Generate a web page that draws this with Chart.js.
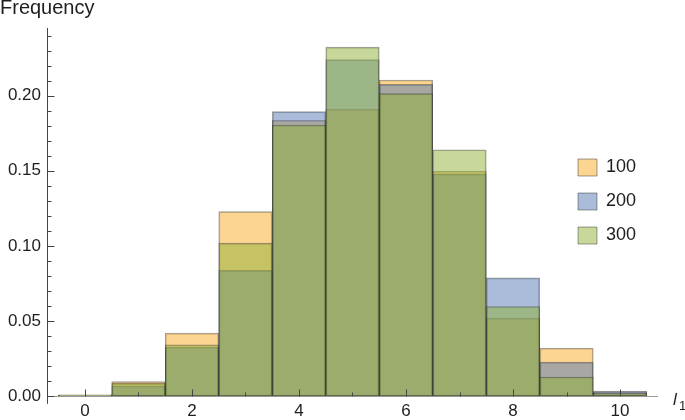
<!DOCTYPE html>
<html>
<head>
<meta charset="utf-8">
<script src="https://cdn.jsdelivr.net/npm/chart.js@4.4.0/dist/chart.umd.min.js"></script>
<style>
  html, body { margin: 0; padding: 0; background: #fff; }
  #wrap { width: 685px; height: 420px; }
</style>
</head>
<body>
<div id="wrap"><canvas id="hist" width="685" height="420"></canvas></div>
<script>
// bin centres for l1 (each bin is 1 wide) and the frequency in each bin
const bins = [0, 1, 2, 3, 4, 5, 6, 7, 8, 9, 10];
const freq100 = [0.001, 0.0097, 0.042, 0.1228, 0.1835, 0.191, 0.2104, 0.1497, 0.052, 0.032, 0.003];
const freq200 = [0.0005, 0.0069, 0.0328, 0.0838, 0.1894, 0.224, 0.2075, 0.148, 0.0788, 0.0227, 0.0035];
const freq300 = [0.0008, 0.0086, 0.0343, 0.1019, 0.1805, 0.2323, 0.2013, 0.164, 0.0597, 0.0128, 0.002];
const seriesNames = ['100', '200', '300'];
const xTicks = [0, 2, 4, 6, 8, 10];
const yTicks = [0, 0.05, 0.10, 0.15, 0.20];

const fills = ['rgba(249,172,40,0.5)', 'rgba(85,121,180,0.5)', 'rgba(145,177,55,0.5)'];
const edge = 'rgba(40,40,40,0.45)';
const textColor = '#1e1e1e';

Chart.defaults.font.family = '"Liberation Sans", Arial, Helvetica, sans-serif';

const toPoints = vals => bins.map((b, i) => ({x: b, y: vals[i]}));

// mathematica style axes: ticks point inwards, drawn over the bars
const mmaAxes = {
  id: 'mmaAxes',
  afterDatasetsDraw(chart) {
    const {ctx, chartArea: a, scales: {x, y}} = chart;
    const y0 = Math.round(y.getPixelForValue(0)) + 0.5;
    const x0 = Math.round(a.left) + 0.5;
    ctx.save();
    ctx.lineWidth = 1;
    ctx.strokeStyle = '#9a9a9a';
    ctx.beginPath();
    ctx.moveTo(a.left, y0);
    ctx.lineTo(a.right, y0);
    ctx.stroke();
    ctx.strokeStyle = '#444';
    ctx.beginPath();
    ctx.moveTo(x0, a.top);
    ctx.lineTo(x0, a.bottom);
    for (const b of bins) {
      const px = Math.round(x.getPixelForValue(b)) + 0.5;
      ctx.moveTo(px, y0);
      ctx.lineTo(px, y0 - (xTicks.includes(b) ? 7 : 4));
    }
    for (let k = 0; k <= 24; k++) {
      const py = Math.round(y.getPixelForValue(k / 100)) + 0.5;
      ctx.moveTo(x0, py);
      ctx.lineTo(x0 + (k % 5 === 0 ? 7 : 4), py);
    }
    ctx.stroke();
    ctx.restore();
  },
  afterDraw(chart) {
    const {ctx, chartArea: a} = chart;
    ctx.save();
    ctx.fillStyle = textColor;
    ctx.textBaseline = 'alphabetic';
    ctx.font = 'italic 17px "Liberation Sans", Arial, sans-serif';
    ctx.fillText('l', a.right + 15, 405);
    ctx.font = '13px "Liberation Sans", Arial, sans-serif';
    ctx.fillText('1', a.right + 21, 410);
    ctx.restore();
  }
};

// put the legend to the right inside the plot, like the reference
const legendSpot = {
  id: 'legendSpot',
  afterLayout(chart) {
    chart.legend.left = chart.chartArea.right - 96;
    chart.legend.top = 142.5;
  }
};

new Chart(document.getElementById('hist'), {
  type: 'bar',
  data: {
    datasets: [freq100, freq200, freq300].map((vals, i) => ({
      label: seriesNames[i],
      data: toPoints(vals),
      backgroundColor: fills[i],
      borderColor: edge,
      borderWidth: 1,
      borderSkipped: false,
      grouped: false,
      categoryPercentage: 1,
      barPercentage: 1,
      order: 3 - i
    }))
  },
  options: {
    responsive: false,
    animation: false,
    layout: { padding: { left: 0, right: 27, top: 0, bottom: 0 } },
    plugins: {
      title: {
        display: true,
        text: 'Frequency',
        align: 'start',
        color: textColor,
        font: { size: 20, weight: 'normal', lineHeight: 0.9 },
        padding: { top: -1, bottom: 11 }
      },
      legend: {
        position: 'chartArea',
        align: 'start',
        labels: {
          boxWidth: 19,
          boxHeight: 17,
          padding: 16,
          color: textColor,
          font: { size: 18 },
          sort: (a, b) => a.datasetIndex - b.datasetIndex
        }
      },
      tooltip: { enabled: false }
    },
    scales: {
      x: {
        type: 'linear',
        offset: false,
        min: -0.71,
        max: 10.71,
        afterBuildTicks: s => { s.ticks = xTicks.map(v => ({value: v})); },
        afterFit: s => { s.height = 14; },
        grid: { display: false, drawTicks: false },
        border: { display: false },
        ticks: {
          padding: -3,
          autoSkip: false,
          maxRotation: 0,
          color: textColor,
          font: { size: 17 },
          callback: v => String(v)
        }
      },
      y: {
        min: -0.005,
        max: 0.245,
        afterBuildTicks: s => { s.ticks = yTicks.map(v => ({value: v})); },
        afterFit: s => { s.width = 47; },
        grid: { display: false, drawTicks: false },
        border: { display: false },
        ticks: {
          padding: 6,
          color: textColor,
          font: { size: 17 },
          callback: v => v.toFixed(2)
        }
      }
    }
  },
  plugins: [mmaAxes, legendSpot]
});
</script>
</body>
</html>
